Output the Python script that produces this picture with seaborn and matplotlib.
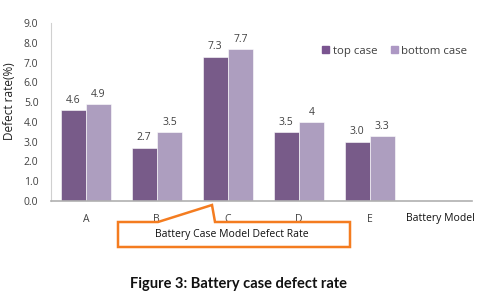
import numpy as np
import pandas as pd
import matplotlib.pyplot as plt
import seaborn as sns
from matplotlib.patches import Polygon, Patch

models = ['A', 'B', 'C', 'D', 'E']
top_case = [4.6, 2.7, 7.3, 3.5, 3.0]
bottom_case = [4.9, 3.5, 7.7, 4.0, 3.3]
top_labels = ['4.6', '2.7', '7.3', '3.5', '3.0']
bottom_labels = ['4.9', '3.5', '7.7', '4', '3.3']
series = ['top case', 'bottom case']
y_ticks = [0, 1, 2, 3, 4, 5, 6, 7, 8, 9]

df = pd.DataFrame({
    'model': models * 2,
    'rate': top_case + bottom_case,
    'case': [series[0]] * 5 + [series[1]] * 5,
})

sns.set_style('white')
plt.rcParams['font.family'] = ['Open Sans', 'DejaVu Sans']
colors = ['#7A5490', '#AD98C4']

W, H = 492, 298
fig = plt.figure(figsize=(W / 100, H / 100), dpi=100)
ax = fig.add_axes([51 / W, 1 - 201 / H, (472 - 51) / W, (201 - 23) / H])

sns.barplot(data=df, x='model', y='rate', hue='case', palette=colors,
            width=0.71, edgecolor='white', linewidth=0.4, ax=ax)
ax.legend_.remove()

for cont, labs in zip(ax.containers, [top_labels, bottom_labels]):
    ax.bar_label(cont, labels=labs, padding=3, fontsize=7.5, color='#404040')

ax.set_xlim(-0.49, 5.44)
ax.set_ylim(0, 9)
ax.set_yticks(y_ticks)
ax.set_yticklabels([f'{v:.1f}' for v in y_ticks], fontsize=7.5, color='#404040')
ax.tick_params(axis='x', labelsize=7.5, colors='#404040', pad=9, length=0)
ax.tick_params(axis='y', length=0, pad=9)
ax.set_xlabel('')
ax.set_ylabel('Defect rate(%)', fontsize=8.5, color='#202020')
ax.yaxis.set_label_coords(-0.082, 0.56)
for s in ['top', 'right']:
    ax.spines[s].set_visible(False)
ax.spines['left'].set_color('#d0d0d0')
ax.spines['bottom'].set_color('#b0b0b0')
ax.spines['bottom'].set_linewidth(1.2)

handles = [Patch(color=c) for c in colors]
ax.legend(handles, series, loc='upper left', bbox_to_anchor=(0.62, 0.93),
          ncol=2, frameon=False, fontsize=8.2, handlelength=0.6,
          handleheight=0.6, handletextpad=0.3, columnspacing=1.2,
          labelcolor='#404040')

def px(x, y):
    return (x / W, 1 - y / H)

fig.text(*px(406, 218), 'Battery Model', fontsize=7.5, va='center', color='#111111')

callout = [px(118, 222), px(158, 222), px(212, 205), px(215, 222),
           px(350, 222), px(350, 247), px(118, 247)]
fig.patches.append(Polygon(callout, closed=True, transform=fig.transFigure,
                           facecolor='none', edgecolor='#F47C20', linewidth=1.8))
fig.text(*px(232, 235), 'Battery Case Model Defect Rate', fontsize=7.5,
         ha='center', va='center', color='#111111')

fig.text(*px(239, 284), 'Figure 3: Battery case defect rate', fontsize=10.5,
         fontweight='bold', family='Lato', ha='center', va='center', color='#111111')

fig.savefig('out.png', dpi=100)
